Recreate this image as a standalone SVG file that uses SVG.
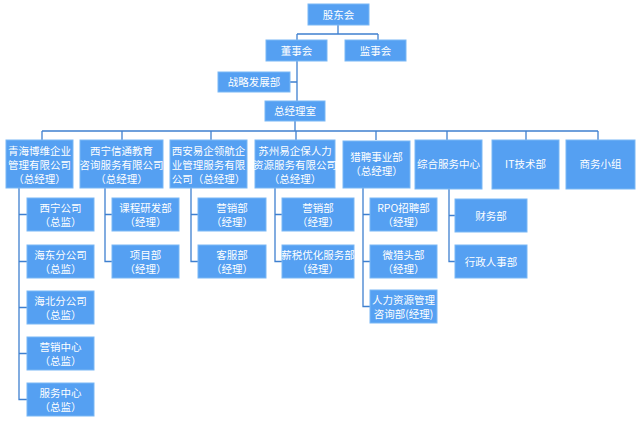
<svg xmlns="http://www.w3.org/2000/svg" width="640" height="426" viewBox="0 0 640 426">
<style>
.b{fill:#55a0f2;stroke:#7ab8f5;stroke-width:1}
.t{fill:#fff;font-family:"Noto Sans CJK SC","Liberation Sans",sans-serif;font-size:10.5px;text-anchor:middle}
.c{fill:none;stroke:#3f80d0;stroke-width:1.3}
</style>
<rect width="640" height="426" fill="#fff"/>
<g id="connectors" class="c">
<path d="M338 25V34M297 34H378M297 34V40M378 34V40"/>
<path d="M297 61V101M290 82H297"/>
<path d="M295 121V131M42 131H598M42 131V140M122 131V140M211 131V140M296 131V140M376 131V140M447 131V140M526 131V140M598 131V140"/>
<path d="M19 188V399.5H27M19 214.5H27M19 261.5H27M19 307.5H27M19 353.5H27"/>
<path d="M105 188V261.5H112M105 214.5H112"/>
<path d="M191 188V261.5H198M191 214.5H198"/>
<path d="M275 188V261.5H282M275 214.5H282"/>
<path d="M363 188V306.5H370M363 214.5H370M363 261.5H370"/>
<path d="M449 189V261.5H455M449 215.5H455"/>
</g>
<g id="n1"><rect class="b" x="308" y="4" width="61" height="21"/><text class="t" x="338.5" y="18.5">股东会</text></g>
<g id="n2"><rect class="b" x="266" y="40" width="61" height="21"/><text class="t" x="296.5" y="54.5">董事会</text></g>
<g id="n3"><rect class="b" x="345" y="40" width="61" height="21"/><text class="t" x="375.5" y="54.5">监事会</text></g>
<g id="n4"><rect class="b" x="218" y="72" width="72" height="20"/><text class="t" x="254" y="86">战略发展部</text></g>
<g id="n5"><rect class="b" x="265" y="101" width="60" height="20"/><text class="t" x="295" y="115">总经理室</text></g>
<g id="n6"><rect class="b" x="6" y="140" width="67" height="48"/><text class="t" x="39.5" y="155">青海博维企业</text><text class="t" x="39.5" y="169">管理有限公司</text><text class="t" x="39.5" y="183">（总经理）</text></g>
<g id="n7"><rect class="b" x="80" y="140" width="83" height="48"/><text class="t" x="121.5" y="155">西宁信通教育</text><text class="t" x="121.5" y="169">咨询服务有限公司</text><text class="t" x="121.5" y="183">（总经理）</text></g>
<g id="n8"><rect class="b" x="170" y="140" width="77" height="48"/><text class="t" x="208.5" y="155">西安易企领航企</text><text class="t" x="208.5" y="169">业管理服务有限</text><text class="t" x="208.5" y="183">公司（总经理）</text></g>
<g id="n9"><rect class="b" x="255" y="140" width="80" height="48"/><text class="t" x="295" y="155">苏州易企保人力</text><text class="t" x="295" y="169">资源服务有限公司</text><text class="t" x="295" y="183">（总经理）</text></g>
<g id="n10"><rect class="b" x="343" y="141" width="67" height="47"/><text class="t" x="376.5" y="161">猎聘事业部</text><text class="t" x="376.5" y="175">（总经理）</text></g>
<g id="n11"><rect class="b" x="415" y="140" width="67" height="49"/><text class="t" x="448.5" y="168">综合服务中心</text></g>
<g id="n12"><rect class="b" x="492" y="140" width="67" height="49"/><text class="t" x="525.5" y="168">IT技术部</text></g>
<g id="n13"><rect class="b" x="566" y="140" width="69" height="49"/><text class="t" x="600.5" y="168">商务小组</text></g>
<g id="c1"><rect class="b" x="27" y="198" width="67" height="33"/><text class="t" x="60.5" y="212">西宁公司</text><text class="t" x="60.5" y="226">（总监）</text></g>
<g id="c2"><rect class="b" x="27" y="245" width="67" height="33"/><text class="t" x="60.5" y="259">海东分公司</text><text class="t" x="60.5" y="273">（总监）</text></g>
<g id="c3"><rect class="b" x="27" y="291" width="67" height="33"/><text class="t" x="60.5" y="305">海北分公司</text><text class="t" x="60.5" y="319">（总监）</text></g>
<g id="c4"><rect class="b" x="27" y="337" width="67" height="33"/><text class="t" x="60.5" y="351">营销中心</text><text class="t" x="60.5" y="365">（总监）</text></g>
<g id="c5"><rect class="b" x="27" y="383" width="67" height="33"/><text class="t" x="60.5" y="397">服务中心</text><text class="t" x="60.5" y="411">（总监）</text></g>
<g id="c6"><rect class="b" x="112" y="198" width="67" height="33"/><text class="t" x="145.5" y="212">课程研发部</text><text class="t" x="145.5" y="226">（经理）</text></g>
<g id="c7"><rect class="b" x="112" y="245" width="67" height="33"/><text class="t" x="145.5" y="259">项目部</text><text class="t" x="145.5" y="273">（经理）</text></g>
<g id="c8"><rect class="b" x="198" y="198" width="68" height="33"/><text class="t" x="232" y="212">营销部</text><text class="t" x="232" y="226">（经理）</text></g>
<g id="c9"><rect class="b" x="198" y="245" width="68" height="33"/><text class="t" x="232" y="259">客服部</text><text class="t" x="232" y="273">（经理）</text></g>
<g id="c10"><rect class="b" x="282" y="198" width="72" height="33"/><text class="t" x="318" y="212">营销部</text><text class="t" x="318" y="226">（经理）</text></g>
<g id="c11"><rect class="b" x="282" y="245" width="72" height="33"/><text class="t" x="318" y="259">薪税优化服务部</text><text class="t" x="318" y="273">（经理）</text></g>
<g id="c12"><rect class="b" x="370" y="198" width="67" height="33"/><text class="t" x="403.5" y="212">RPO招聘部</text><text class="t" x="403.5" y="226">（经理）</text></g>
<g id="c13"><rect class="b" x="370" y="245" width="67" height="33"/><text class="t" x="403.5" y="259">微猎头部</text><text class="t" x="403.5" y="273">（经理）</text></g>
<g id="c14"><rect class="b" x="370" y="290" width="67" height="33"/><text class="t" x="403.5" y="304">人力资源管理</text><text class="t" x="403.5" y="318">咨询部(经理)</text></g>
<g id="c15"><rect class="b" x="455" y="199" width="72" height="33"/><text class="t" x="491" y="219.5">财务部</text></g>
<g id="c16"><rect class="b" x="455" y="245" width="72" height="33"/><text class="t" x="491" y="265.5">行政人事部</text></g>
</svg>
